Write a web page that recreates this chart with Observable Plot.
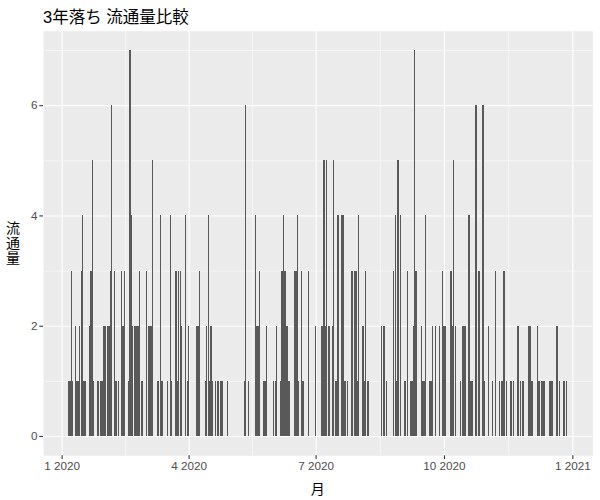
<!DOCTYPE html>
<html><head><meta charset="utf-8">
<script src="https://cdn.jsdelivr.net/npm/d3@7"></script>
<script src="https://cdn.jsdelivr.net/npm/@observablehq/plot@0.6"></script>
<style>
body{margin:0;background:#fff;}
#chart svg{font-family:"Liberation Sans",Arial,"Noto Sans CJK JP",sans-serif;}
</style>
</head><body><div id="chart"></div>
<script>
const title = "3年落ち 流通量比較";
const xLabel = "月";
const yLabel = ["流", "通", "量"];
const year = 2020;

// days of each month with listings, and the count on each of those days
const janDays = [6,7,8,9,11,12,13,14,15,16,17,18,21,22,23,24,27,29,30,31];
const janCounts = [1,1,3,1,2,1,1,2,3,4,1,1,2,3,5,1,1,1,1,2];
const febDays = [1,3,4,5,6,8,9,11,13,14,15,18,19,20,21,22,23,24,25,26,27,28];
const febCounts = [2,2,2,3,6,3,1,1,3,2,3,1,7,4,2,2,2,2,2,3,1,1];
const marDays = [2,3,4,5,6,10,12,13,17,19,20,23,24,25,26,27,30,31];
const marCounts = [3,2,2,2,5,1,4,1,1,4,1,3,1,3,3,2,4,1];
const aprDays = [1,7,8,9,13,14,15,16,17,18,20,22,24,25,29];
const aprCounts = [2,2,2,3,1,2,4,1,2,1,1,1,1,1,1];
const mayDays = [11,12,14,19,20,21,22,25,26,27];
const mayCounts = [1,6,1,4,2,2,3,1,1,2];
const junDays = [1,2,3,6,7,8,9,10,11,12,16,17,18,19,21,22,26];
const junCounts = [1,1,2,1,3,4,3,2,2,1,3,3,4,1,3,1,3];
const julDays = [1,5,6,7,8,9,10,11,13,14,15,16,17,20,21,22,24,27,29,30,31];
const julCounts = [2,2,2,5,2,5,2,2,2,5,1,1,4,4,4,1,1,3,3,3,1];
const augDays = [1,4,5,6,7,8,17,19,21,26,27,28,29,31];
const augCounts = [4,2,1,3,1,1,2,2,1,3,4,1,5,4];
const sepDays = [3,5,7,8,9,10,11,15,16,17,18,21,22,23,25,28,30];
const sepCounts = [1,3,1,1,2,7,3,2,1,1,4,1,1,2,2,2,3];
const octDays = [1,2,6,7,8,9,13,14,15,16,19,20,21,24,26,29,30];
const octCounts = [2,2,3,2,5,2,1,2,2,2,4,1,1,6,3,6,1];
const novDays = [2,5,7,10,11,12,13,15,18,20,23,25,26,27];
const novCounts = [2,1,3,1,1,1,3,1,1,1,2,1,1,1];
const decDays = [1,2,3,7,8,10,11,12,16,17,18,21,23,26,28];
const decCounts = [2,2,1,2,1,1,1,1,1,1,1,2,1,1,1];

const yTicks = [0, 2, 4, 6];
const yMinor = [1, 3, 5, 7];
const xTicks = [[2020,0,1],[2020,3,1],[2020,6,1],[2020,9,1],[2021,0,1]];
const xMinor = [[2020,1,15,12],[2020,4,16,12],[2020,7,16,0],[2020,10,16,0]];

const monthDays = [janDays,febDays,marDays,aprDays,mayDays,junDays,julDays,augDays,sepDays,octDays,novDays,decDays];
const monthCounts = [janCounts,febCounts,marCounts,aprCounts,mayCounts,junCounts,julCounts,augCounts,sepCounts,octCounts,novCounts,decCounts];
const data = monthDays.flatMap((days, m) => days.map((day, i) => ({date: new Date(Date.UTC(year, m, day)), count: monthCounts[m][i]})));

const toDate = a => new Date(Date.UTC(a[0], a[1], a[2], a[3] || 0));
const majorDates = xTicks.map(toDate);
const minorDates = xMinor.map(toDate);

const halfBar = 0.45 * 864e5;
const [lo, hi] = d3.extent(data, d => d.date);
const xlo = +lo - halfBar, xhi = +hi + halfBar, xpad = 0.05 * (xhi - xlo);
const ymax = d3.max(data, d => d.count), ypad = 0.05 * ymax;

const W = 600, H = 500;
const mL = 43, mR = 7.6, mT = 30.7, mB = 44.7;

const chart = Plot.plot({
  width: W, height: H,
  marginLeft: mL, marginRight: mR, marginTop: mT, marginBottom: mB,
  style: {fontFamily: '"Liberation Sans",Arial,"Noto Sans CJK JP",sans-serif', background: "white"},
  x: {type: "utc", domain: [new Date(xlo - xpad), new Date(xhi + xpad)]},
  y: {domain: [-ypad, ymax + ypad]},
  marks: [
    Plot.frame({fill: "#EBEBEB"}),
    Plot.gridY(yMinor, {stroke: "white", strokeOpacity: 1, strokeWidth: 0.55}),
    Plot.gridX(minorDates, {stroke: "white", strokeOpacity: 1, strokeWidth: 0.55}),
    Plot.gridY(yTicks, {stroke: "white", strokeOpacity: 1, strokeWidth: 1.1}),
    Plot.gridX(majorDates, {stroke: "white", strokeOpacity: 1, strokeWidth: 1.1}),
    Plot.rectY(data, {
      x1: d => new Date(+d.date - halfBar),
      x2: d => new Date(+d.date + halfBar),
      y1: 0, y2: "count", fill: "#595959", shapeRendering: "crispEdges"
    }),
    Plot.axisX(majorDates, {
      tickFormat: d => `${d.getUTCMonth() + 1} ${d.getUTCFullYear()}`,
      tickSize: 3.7, tickPadding: 2.5, stroke: "#333333", strokeWidth: 1.07,
      fill: "#4D4D4D", fontSize: 11.7, label: null
    }),
    Plot.axisY(yTicks, {
      tickFormat: d => String(d),
      tickSize: 3.7, tickPadding: 2.2, stroke: "#333333", strokeWidth: 1.07,
      fill: "#4D4D4D", fontSize: 11.7, label: null
    })
  ]
});

const svg = d3.select(chart);
svg.append("text").attr("x", mL).attr("y", 23).attr("text-anchor", "start").attr("font-size", 16.5).attr("fill", "black").text(title);
const yl = svg.append("text").attr("x", 13).attr("text-anchor", "middle").attr("font-size", 14).attr("fill", "black");
yLabel.forEach((ch, i) => yl.append("tspan").attr("x", 13).attr("y", 233 + i * 15).text(ch));
svg.append("text").attr("x", (mL + W - mR) / 2).attr("y", 494).attr("text-anchor", "middle").attr("font-size", 14).attr("fill", "black").text(xLabel);

document.getElementById("chart").appendChild(chart);
</script>
</body></html>
